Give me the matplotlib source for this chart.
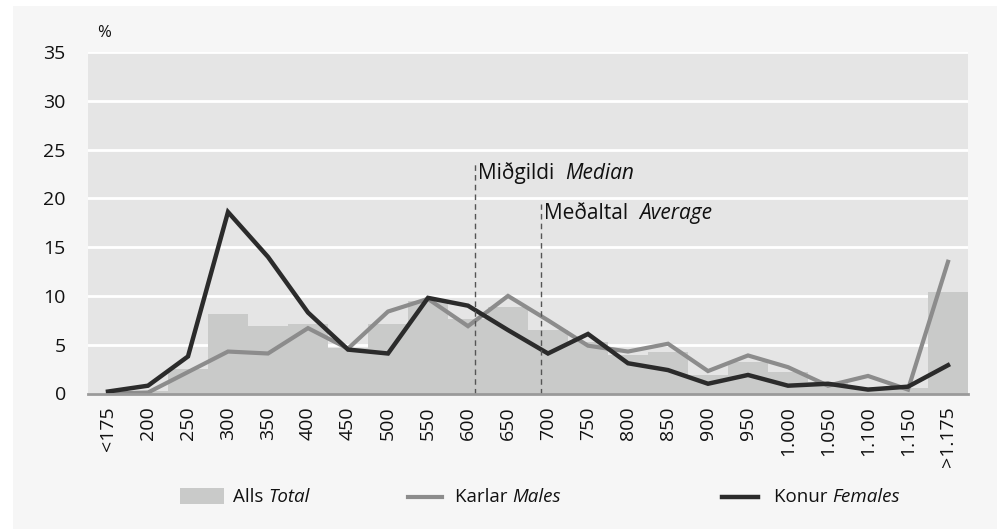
import matplotlib.pyplot as plt
from matplotlib.patches import Rectangle
from matplotlib.lines import Line2D
import numpy as np

plt.rcParams['font.family'] = ['Open Sans', 'DejaVu Sans']

# Income bands (thousand ISK)
categories = ['<175', '200', '250', '300', '350', '400', '450', '500', '550', '600',
              '650', '700', '750', '800', '850', '900', '950', '1.000', '1.050',
              '1.100', '1.150', '>1.175']
total = [0.0, 0.3, 2.5, 8.1, 6.9, 7.1, 4.7, 7.1, 9.5, 7.6,
         8.9, 6.5, 5.3, 3.9, 4.3, 1.9, 3.2, 2.2, 1.2, 0.7, 0.6, 10.4]
males = [0.0, 0.1, 2.2, 4.3, 4.1, 6.7, 4.6, 8.4, 9.7, 6.9,
         10.0, 7.5, 4.9, 4.3, 5.1, 2.3, 3.9, 2.7, 0.8, 1.8, 0.4, 13.5]
females = [0.2, 0.8, 3.8, 18.6, 14.0, 8.3, 4.5, 4.1, 9.8, 9.0,
           6.5, 4.1, 6.1, 3.1, 2.4, 1.0, 1.9, 0.8, 1.0, 0.4, 0.7, 2.9]
median_pos = 9.18
average_pos = 10.83

fig = plt.figure(figsize=(9.97, 5.29), dpi=100)
fig.patch.set_facecolor('white')
# light grey panel behind everything
fig.patches.append(Rectangle((13 / 997, 0), 1 - 13 / 997, 1 - 6 / 529,
                             transform=fig.transFigure, facecolor='#f6f6f6',
                             edgecolor='none', zorder=-10))

ax = fig.add_axes([88 / 997, 1 - 393.5 / 529, 880 / 997, (393.5 - 52) / 529])
ax.set_facecolor('#e5e5e5')

x = np.arange(len(categories))
ax.bar(x, total, width=1.0, color='#c9cac9', zorder=2)
ax.plot(x, males, color='#8c8c8c', lw=3, zorder=3, solid_joinstyle='miter')
ax.plot(x, females, color='#2b2b2b', lw=3.2, zorder=4, solid_joinstyle='miter')

ax.vlines(median_pos, 0, 23.6, colors='#555555', linestyles=(0, (4, 3)), lw=1, zorder=5)
ax.vlines(average_pos, 0, 19.4, colors='#555555', linestyles=(0, (4, 3)), lw=1, zorder=5)
m1 = ax.text(median_pos + 0.08, 22.6, 'Miðgildi  ', fontsize=15, va='center', ha='left', color='#111111')
m2 = ax.text(average_pos + 0.08, 18.4, 'Meðaltal  ', fontsize=15, va='center', ha='left', color='#111111')
ax.annotate('Median', xy=(1, 0), xycoords=m1, va='bottom', ha='left',
            fontsize=15, style='italic', color='#111111')
ax.annotate('Average', xy=(1, 0), xycoords=m2, va='bottom', ha='left',
            fontsize=15, style='italic', color='#111111')

ax.set_xlim(-0.5, len(categories) - 0.5)
ax.set_ylim(0, 35)
ax.set_yticks(range(0, 36, 5))
ax.yaxis.grid(True, color='white', lw=2)
ax.set_axisbelow(True)
ax.set_xticks(x)
ax.set_xticklabels(categories, rotation=90)
ax.tick_params(axis='both', length=0, labelsize=14, colors='#111111')
ax.tick_params(axis='y', pad=16)
ax.tick_params(axis='x', pad=9)
for s in ['top', 'right', 'left']:
    ax.spines[s].set_visible(False)
ax.spines['bottom'].set_color('#9a9a9a')
ax.spines['bottom'].set_linewidth(2)
ax.spines['bottom'].set_zorder(6)

fig.text(97 / 997, 1 - 33 / 529, '%', fontsize=12, va='center', ha='left', color='#111111')

# legend drawn manually to match layout
ly = 1 - 497 / 529
fig.patches.append(Rectangle((180 / 997, 1 - 504 / 529), 44 / 997, 16 / 529,
                             transform=fig.transFigure, facecolor='#c9cac9', edgecolor='none'))
fig.lines.append(Line2D([408 / 997, 442 / 997], [ly, ly], transform=fig.transFigure,
                        color='#8c8c8c', lw=3))
fig.lines.append(Line2D([722 / 997, 758 / 997], [ly, ly], transform=fig.transFigure,
                        color='#2b2b2b', lw=3.2))
for xpos, a, b in [(233, 'Alls ', 'Total'), (455, 'Karlar ', 'Males'), (774, 'Konur ', 'Females')]:
    t = fig.text(xpos / 997, ly, a, fontsize=13.5, va='center', ha='left', color='#111111')
    fig.add_artist(plt.Annotation(b, xy=(1, 0), xycoords=t, va='bottom', ha='left',
                                  fontsize=13.5, style='italic', color='#111111'))

fig.savefig('out.png', dpi=100, facecolor=fig.get_facecolor())
